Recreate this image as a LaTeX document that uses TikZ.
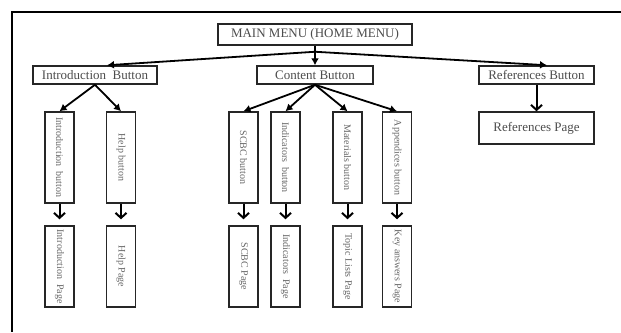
\documentclass[tikz,border=0pt]{standalone}
\usepackage{fontspec}
\setmainfont{Liberation Serif}
\usepackage{graphicx}
\usetikzlibrary{arrows.meta,calc}

\newcommand{\sidetext}[1]{\rotatebox{-90}{#1}}

\begin{document}
\begin{tikzpicture}[x=1pt,y=1pt,node distance=40.5pt,menubox/.style={draw=black!85,line width=1.5pt,text=black!70,inner sep=0,minimum height=18pt,font=\fontsize{13}{13}\selectfont},sidebox/.style={draw=black!85,line width=1.5pt,text=black!60,inner sep=0,minimum width=29pt,minimum height=91pt,font=\fontsize{10}{10}\selectfont},pagebox/.style={sidebox,minimum height=81pt},link/.style={line width=1.8pt,-{Latex[length=7pt,width=8pt]}},drop/.style={line width=2pt,-{Straight Barb[length=5pt,width=11pt]},shorten >=6pt}]

\useasboundingbox (0,0) rectangle (621,-332);
\draw[line width=2.4pt] (621,-12) -- (12,-12) -- (12,-332);

% Nodes
\node[menubox,minimum width=194pt,minimum height=21pt] (main) at (315,-34.5) {MAIN MENU (HOME MENU)};
\node[menubox,minimum width=116pt,below of = main] (content) {Content Button};
\node[menubox,minimum width=124pt,below of = main,xshift=-220pt] (intro) {Introduction\ \ Button};
\node[menubox,minimum width=115pt,below of = main,xshift=221.5pt] (refs) {References Button};
\node[menubox,minimum width=115pt,minimum height=32pt,below of = refs,yshift=-12.5pt] (refspage) {References Page};

\node[sidebox,below of = intro,yshift=-42pt,xshift=-35.5pt] (introbtn) {\sidetext{Introduction\ \ button}};
\node[sidebox,below of = intro,yshift=-42pt,xshift=26pt] (helpbtn) {\sidetext{Help button}};
\node[sidebox,below of = content,yshift=-42pt,xshift=-71.5pt] (scbcbtn) {\sidetext{SCBC button}};
\node[sidebox,below of = content,yshift=-42pt,xshift=-29.5pt] (indbtn) {\sidetext{Indicators\ \ button}};
\node[sidebox,below of = content,yshift=-42pt,xshift=32.5pt] (matbtn) {\sidetext{Materials button}};
\node[sidebox,below of = content,yshift=-42pt,xshift=82pt] (appbtn) {\sidetext{Appendices button}};

\node[pagebox,below of = introbtn,yshift=-68.5pt] (intropage) {\sidetext{Introduction\ \ Page}};
\node[pagebox,below of = helpbtn,yshift=-68.5pt] (helppage) {\sidetext{Help Page}};
\node[pagebox,below of = scbcbtn,yshift=-68.5pt] (scbcpage) {\sidetext{SCBC Page}};
\node[pagebox,below of = indbtn,yshift=-68.5pt] (indpage) {\sidetext{Indicators\ \ Page}};
\node[pagebox,below of = matbtn,yshift=-68.5pt] (topicpage) {\sidetext{Topic Lists Page}};
\node[pagebox,below of = appbtn,yshift=-68.5pt] (keypage) {\sidetext{Key answers Page}};

\coordinate (split) at ($(main.south)+(0,-6)$);
\coordinate (introtip) at ($(intro.north)+(12,0)$);
\coordinate (refstip) at ($(refs.north)+(10.5,0)$);

%arcs
\draw[line width=1.8pt] (main.south) -- (split);
\path (split) edge[link] (content);
\path (split) edge[link] (introtip);
\path (split) edge[link] (refstip);
\path (intro.south) edge[link] (introbtn.north);
\path (intro.south) edge[link] (helpbtn.north);
\path (content.south) edge[link] (scbcbtn.north);
\path (content.south) edge[link] (indbtn.north);
\path (content.south) edge[link] (matbtn.north);
\path (content.south) edge[link] (appbtn.north);
\path (refs) edge[drop,shorten >=0pt] (refspage);
\path (introbtn) edge[drop] (intropage);
\path (helpbtn) edge[drop] (helppage);
\path (scbcbtn) edge[drop] (scbcpage);
\path (indbtn) edge[drop] (indpage);
\path (matbtn) edge[drop] (topicpage);
\path (appbtn) edge[drop] (keypage);

\end{tikzpicture}
\end{document}
